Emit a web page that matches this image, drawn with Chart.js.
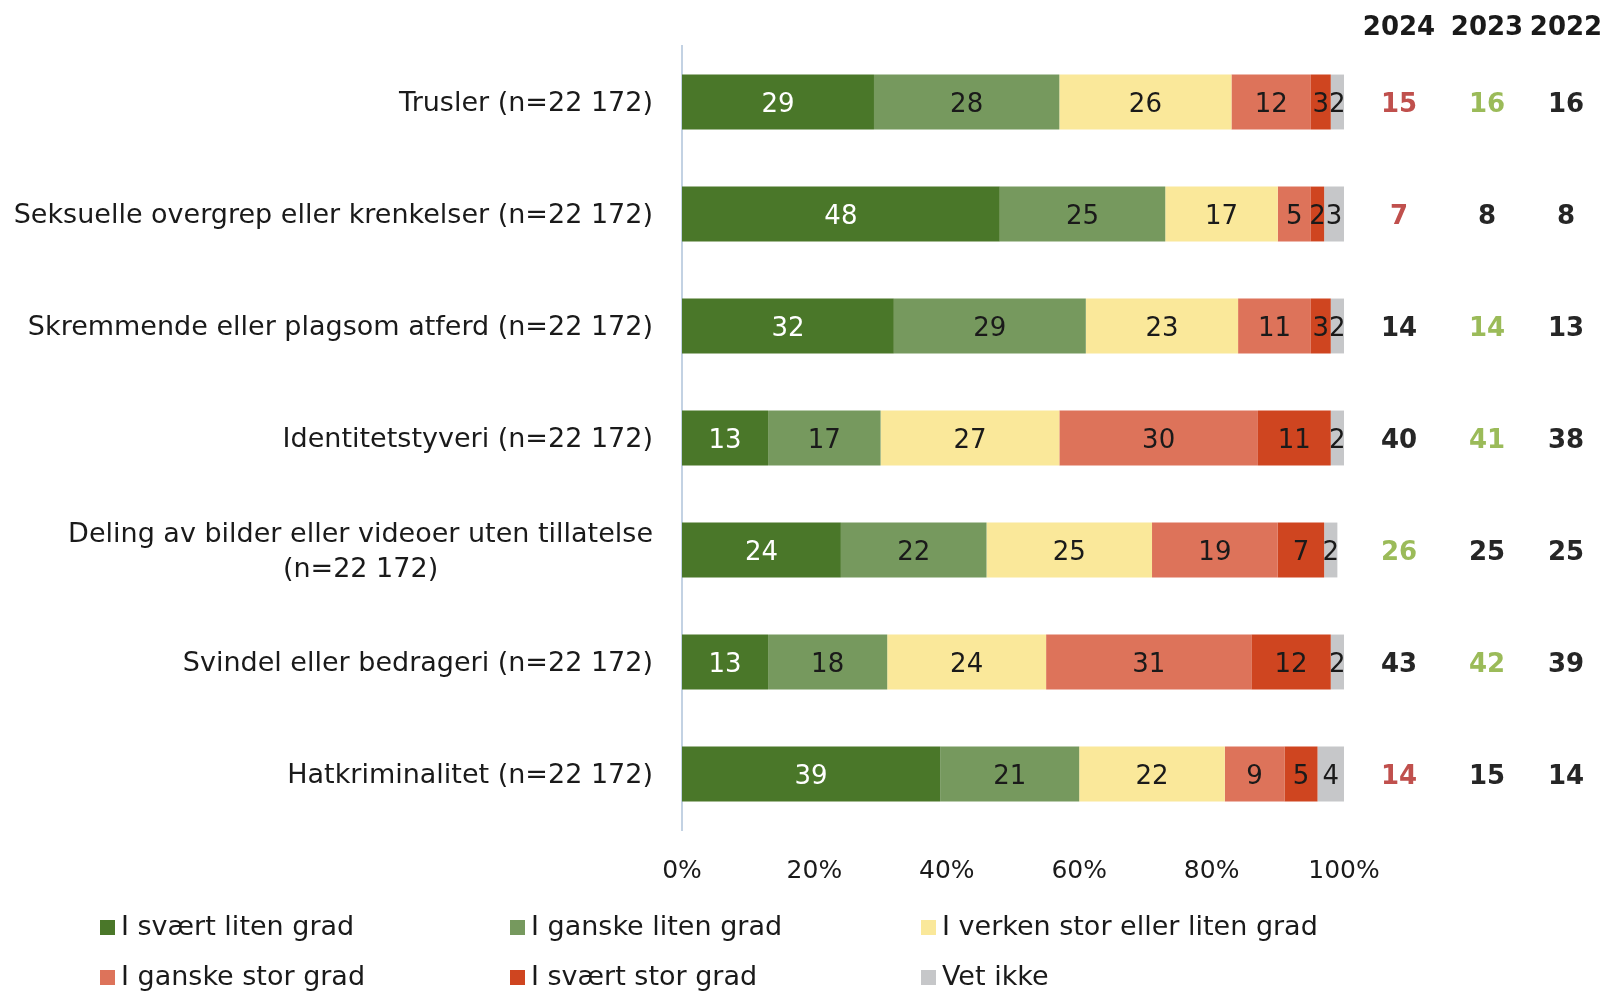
<!DOCTYPE html>
<html>
<head>
<meta charset="utf-8">
<script src="https://cdn.jsdelivr.net/npm/chart.js@4.4.1/dist/chart.umd.min.js"></script>
<style>
  html, body { margin: 0; padding: 0; background: #ffffff; }
  #wrap { width: 1604px; height: 993px; position: relative; }
</style>
</head>
<body>
<div id="wrap"><canvas id="c" width="1604" height="993"></canvas></div>
<script>
// ---------- DATA ----------
const categories = [
  ['Trusler (n=22 172)'],
  ['Seksuelle overgrep eller krenkelser (n=22 172)'],
  ['Skremmende eller plagsom atferd (n=22 172)'],
  ['Identitetstyveri (n=22 172)'],
  ['Deling av bilder eller videoer uten tillatelse', '(n=22 172)'],
  ['Svindel eller bedrageri (n=22 172)'],
  ['Hatkriminalitet (n=22 172)']
];
const seriesNames = [
  'I svært liten grad',
  'I ganske liten grad',
  'I verken stor eller liten grad',
  'I ganske stor grad',
  'I svært stor grad',
  'Vet ikke'
];
const svaertLiten   = [29, 48, 32, 13, 24, 13, 39];
const ganskeLiten   = [28, 25, 29, 17, 22, 18, 21];
const verken        = [26, 17, 23, 27, 25, 24, 22];
const ganskeStor    = [12,  5, 11, 30, 19, 31,  9];
const svaertStor    = [ 3,  2,  3, 11,  7, 12,  5];
const vetIkke       = [ 2,  3,  2,  2,  2,  2,  4];
const xTickValues   = [0, 20, 40, 60, 80, 100];
const years         = ['2024', '2023', '2022'];
const values2024    = [15, 7, 14, 40, 26, 43, 14];
const values2023    = [16, 8, 14, 41, 25, 42, 15];
const values2022    = [16, 8, 13, 38, 25, 39, 14];
// change marker vs. reference: 'down', 'up' or '' (none)
const change2024    = ['down', 'down', '', '', 'up', '', 'down'];
const change2023    = ['up', '', 'up', 'up', '', 'up', ''];
const change2022    = ['', '', '', '', '', '', ''];

// ---------- STYLE ----------
const FONT = '"DejaVu Sans", sans-serif';
const seriesColors = ['#4a7729', '#76995e', '#fae89a', '#dd735a', '#cf4520', '#c6c7c9'];
const changeColors = { down: '#c0504d', up: '#9bbb59', '': '#262626' };
const TEXT = '#1a1a1a';

const seriesData = [svaertLiten, ganskeLiten, verken, ganskeStor, svaertStor, vetIkke];
const yearValues = [values2024, values2023, values2022];
const yearChanges = [change2024, change2023, change2022];

const overlay = {
  id: 'overlay',
  afterDraw(chart) {
    const ctx = chart.ctx;
    const ys = chart.scales.y;
    ctx.save();
    // category labels
    ctx.font = '27px ' + FONT;
    ctx.fillStyle = TEXT;
    ctx.textBaseline = 'middle';
    const rightEdge = 653;
    categories.forEach((lines, i) => {
      const cy = ys.getPixelForValue(i) + 2;
      const lh = 35;
      const w = Math.max(...lines.map(l => ctx.measureText(l).width));
      const cx = rightEdge - w / 2;
      ctx.textAlign = 'center';
      lines.forEach((l, k) => {
        ctx.fillText(l, cx, cy + (k - (lines.length - 1) / 2) * lh);
      });
    });
    // bar value labels
    ctx.font = '26px ' + FONT;
    ctx.textAlign = 'center';
    chart.data.datasets.forEach((ds, di) => {
      const meta = chart.getDatasetMeta(di);
      meta.data.forEach((el, i) => {
        const v = ds.data[i];
        ctx.fillStyle = di === 0 ? '#ffffff' : TEXT;
        ctx.fillText(String(v), (el.x + el.base) / 2, el.y + 3);
      });
    });
    // year columns
    const colX = [1399, 1487, 1566];
    ctx.font = 'bold 26px ' + FONT;
    years.forEach((yr, c) => {
      ctx.fillStyle = TEXT;
      ctx.fillText(yr, colX[c], 28);
      yearValues[c].forEach((v, i) => {
        ctx.fillStyle = changeColors[yearChanges[c][i]];
        ctx.fillText(String(v), colX[c], ys.getPixelForValue(i) + 3);
      });
    });
    // legend
    const legX = [100, 510, 921];
    const legY = [927, 977];
    ctx.font = '27px ' + FONT;
    ctx.textAlign = 'left';
    seriesNames.forEach((name, k) => {
      const x = legX[k % 3];
      const y = legY[Math.floor(k / 3)];
      ctx.fillStyle = seriesColors[k];
      ctx.fillRect(x, y - 7, 15, 15);
      ctx.fillStyle = TEXT;
      ctx.fillText(name, x + 21, y + 1);
    });
    ctx.restore();
  }
};

new Chart(document.getElementById('c'), {
  type: 'bar',
  data: {
    labels: categories.map(l => l.join(' ')),
    datasets: seriesData.map((d, k) => ({
      label: seriesNames[k],
      data: d,
      backgroundColor: seriesColors[k],
      borderWidth: 0,
      barPercentage: 0.49,
      categoryPercentage: 1.0
    }))
  },
  options: {
    indexAxis: 'y',
    responsive: false,
    animation: false,
    layout: { padding: { top: 46, right: 260, bottom: 0, left: 0 } },
    plugins: { legend: { display: false }, tooltip: { enabled: false } },
    scales: {
      y: {
        stacked: true,
        grid: { display: false, drawTicks: false },
        border: { display: true, color: '#c3d2e3', width: 2 },
        ticks: { display: false },
        afterFit: s => { s.width = 682; }
      },
      x: {
        stacked: true,
        min: 0, max: 100,
        afterBuildTicks: s => { s.ticks = xTickValues.map(v => ({ value: v })); },
        grid: { display: false, drawTicks: false },
        border: { display: false },
        ticks: {
          padding: 26,
          color: TEXT,
          font: { family: FONT, size: 25 },
          maxRotation: 0,
          callback: v => v + '%'
        },
        afterFit: s => { s.height = 163; }
      }
    }
  },
  plugins: [overlay]
});
</script>
</body>
</html>
